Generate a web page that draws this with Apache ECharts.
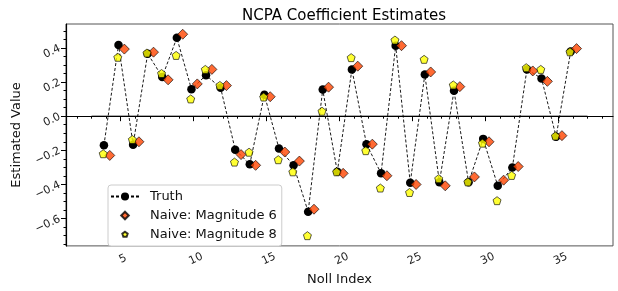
<!DOCTYPE html>
<html>
<head>
<meta charset="utf-8">
<script src="https://cdn.jsdelivr.net/npm/echarts@6/dist/echarts.min.js"></script>
<style>
  html, body { margin: 0; padding: 0; background: #fff; }
  #main { width: 618px; height: 291px; }
</style>
</head>
<body>
<div id="main"></div>
<script>
// Noll indices 4..36
var nollIndex = [4, 5, 6, 7, 8, 9, 10, 11, 12, 13, 14, 15, 16, 17, 18, 19, 20,
                 21, 22, 23, 24, 25, 26, 27, 28, 29, 30, 31, 32, 33, 34, 35, 36];
var truthVals = [-0.17, 0.417, -0.167, 0.366, 0.23, 0.459, 0.158, 0.24, 0.166, -0.196, -0.282,
                 0.126, -0.189, -0.288, -0.56, 0.156, -0.326, 0.274, -0.164, -0.335, 0.413,
                 -0.39, 0.244, -0.387, 0.149, -0.387, -0.133, -0.408, -0.301, 0.274, 0.221, -0.12, 0.379];
var mag6Vals = [-0.23, 0.393, -0.15, 0.375, 0.213, 0.48, 0.189, 0.274, 0.179, -0.225, -0.288,
                0.114, -0.21, -0.263, -0.545, 0.17, -0.335, 0.293, -0.164, -0.349, 0.413,
                -0.40, 0.259, -0.408, 0.173, -0.356, -0.15, -0.375, -0.295, 0.265, 0.204, -0.114, 0.396];
var mag8Vals = [-0.22, 0.345, -0.137, 0.37, 0.25, 0.356, 0.101, 0.274, 0.18, -0.269, -0.211,
                0.112, -0.255, -0.326, -0.70, 0.029, -0.326, 0.343, -0.202, -0.421, 0.446,
                -0.447, 0.333, -0.366, 0.183, -0.385, -0.158, -0.495, -0.347, 0.284, 0.274, -0.116, 0.377];
var xTicks = [5, 10, 15, 20, 25, 30, 35];
var yTicks = [-0.6, -0.4, -0.2, 0.0, 0.2, 0.4];

var FONT = 'DejaVu Sans';

function pairs(vals, dx) {
  var out = [];
  for (var i = 0; i < nollIndex.length; i++) {
    out.push([nollIndex[i] + dx, vals[i]]);
  }
  return out;
}

var xMinor = [], yMinor = [];
for (var i = 2; i <= 38; i++) xMinor.push(i);
for (var k = -15; k <= 10; k++) yMinor.push(+(k * 0.05).toFixed(2));

var pentagon = 'path://M0,-1 L0.951,-0.309 L0.588,0.809 L-0.588,0.809 L-0.951,-0.309 Z';
// legend icons: same shapes inside a wider empty box so they stay small
var legDiamond = 'path://M-2.8,-1.25 L-2.8,-1.25 M2.8,1.25 L2.8,1.25 M0,-0.95 L0.95,0 L0,0.95 L-0.95,0 Z';
var legPentagon = 'path://M-2.8,-1.25 L-2.8,-1.25 M2.8,1.25 L2.8,1.25 M0,-0.7 L0.666,-0.216 L0.412,0.566 L-0.412,0.566 L-0.666,-0.216 Z';

var myChart = echarts.init(document.getElementById('main'));
var option = {
  backgroundColor: '#fff',
  animation: false,
  title: {
    text: 'NCPA Coefficient Estimates',
    left: 237,
    top: 4,
    textStyle: { fontFamily: FONT, fontSize: 15, fontWeight: 'normal', color: '#000' }
  },
  legend: {
    left: 108,
    top: 185,
    orient: 'vertical',
    itemWidth: 28,
    itemHeight: 10,
    itemGap: 6,
    padding: [5, 5, 5, 2],
    backgroundColor: '#fff',
    borderColor: '#ccc',
    borderWidth: 1,
    borderRadius: 3,
    textStyle: { fontFamily: FONT, fontSize: 13, color: '#111', padding: [0, 0, 0, 6] },
    data: [
      { name: 'Truth' },
      { name: 'Naive: Magnitude 6', icon: legDiamond },
      { name: 'Naive: Magnitude 8', icon: legPentagon }
    ]
  },
  grid: {
    left: 66, right: 5, top: 24, bottom: 40,
    show: true,
    borderColor: '#555',
    borderWidth: 1
  },
  xAxis: [{
    type: 'value',
    min: 1.25, max: 38.75,
    name: 'Noll Index',
    nameLocation: 'middle',
    nameGap: 25,
    nameTextStyle: { fontFamily: FONT, fontSize: 13, color: '#111' },
    axisLine: { lineStyle: { color: '#000', width: 1.2 } },
    axisTick: { customValues: xTicks, length: 5, lineStyle: { color: '#000' } },
    axisLabel: {
      customValues: xTicks, rotate: 25, align: 'center', verticalAlign: 'top',
      fontFamily: FONT, fontSize: 11, color: '#222', margin: 8
    },
    splitLine: { show: false }
  }, {
    type: 'value',
    min: 1.25, max: 38.75,
    position: 'bottom',
    axisLine: { show: false },
    axisTick: { customValues: xMinor, length: 2.5, lineStyle: { color: '#000' } },
    axisLabel: { show: false },
    splitLine: { show: false }
  }],
  yAxis: [{
    type: 'value',
    min: -0.76, max: 0.54,
    name: 'Estimated Value',
    nameLocation: 'middle',
    nameGap: 38,
    nameRotate: 90,
    nameTextStyle: { fontFamily: FONT, fontSize: 13, color: '#111' },
    axisLine: { show: true, lineStyle: { color: '#000', width: 1.2 } },
    axisTick: { show: true, customValues: yTicks, length: 5, lineStyle: { color: '#000' } },
    axisLabel: {
      customValues: yTicks, rotate: 25, fontFamily: FONT, fontSize: 11, color: '#222', margin: 6,
      formatter: function (v) { return v.toFixed(1).replace('-', '\u2212'); }
    },
    splitLine: { show: false }
  }, {
    type: 'value',
    min: -0.76, max: 0.54,
    position: 'left',
    axisLine: { show: false },
    axisTick: { show: true, customValues: yMinor, length: 2.5, lineStyle: { color: '#000' } },
    axisLabel: { show: false },
    splitLine: { show: false }
  }],
  series: [{
    name: 'zero',
    type: 'line',
    data: [[3, 0], [37, 0]],
    symbol: 'none',
    lineStyle: { color: '#000', width: 1 },
    silent: true,
    z: 1
  }, {
    name: 'Truth',
    type: 'line',
    data: pairs(truthVals, -0.15),
    symbol: 'circle',
    symbolSize: 8.5,
    itemStyle: { color: '#000' },
    lineStyle: { color: '#000', width: 0.9, type: [3, 2] },
    z: 2
  }, {
    name: 'Naive: Magnitude 6',
    type: 'scatter',
    data: pairs(mag6Vals, 0.25),
    symbol: 'diamond',
    symbolSize: 10,
    itemStyle: { color: '#ff4500', borderColor: '#000', borderWidth: 0.8 },
    z: 3
  }, {
    name: 'Naive: Magnitude 8',
    type: 'scatter',
    data: pairs(mag8Vals, -0.2),
    symbol: pentagon,
    symbolSize: 8,
    itemStyle: { color: '#ffff00', borderColor: '#000', borderWidth: 0.8 },
    z: 4
  }]
};
myChart.setOption(option);
</script>
</body>
</html>
